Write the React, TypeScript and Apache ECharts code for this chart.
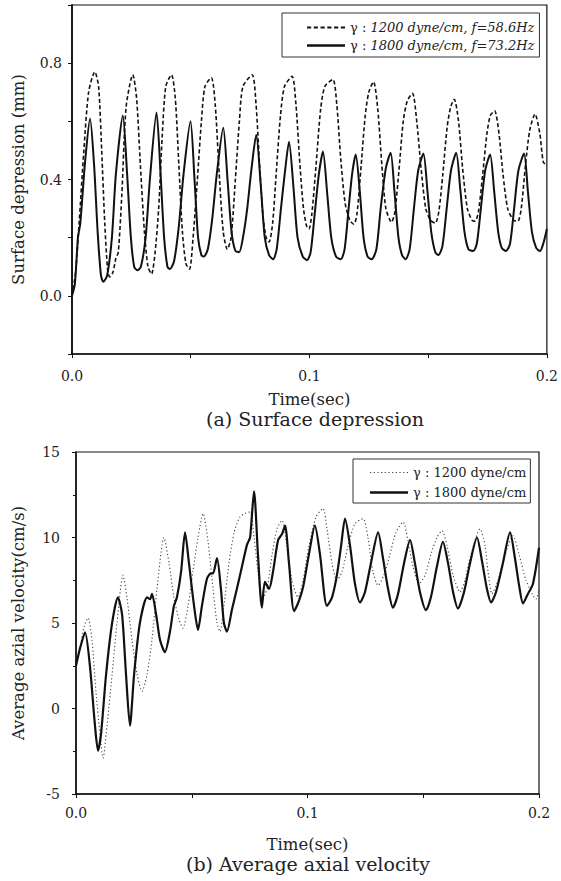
import React, { useEffect, useRef } from "react";
import * as echarts from "echarts";

// (a) Surface depression (mm) vs time (s)
const depth1200: [number, number][] = [
  [0, 0], [0.0015, 0.08], [0.003, 0.25], [0.005, 0.5], [0.007, 0.7], [0.0096, 0.77], [0.0112, 0.72], [0.0125, 0.5],
  [0.0138, 0.25], [0.015, 0.09], [0.0159, 0.065], [0.0172, 0.08], [0.0185, 0.13], [0.0195, 0.15], [0.021, 0.35],
  [0.0228, 0.65], [0.0256, 0.76], [0.0272, 0.68], [0.0288, 0.45], [0.0305, 0.22], [0.032, 0.1], [0.0335, 0.075],
  [0.035, 0.15], [0.0365, 0.3], [0.038, 0.55], [0.0395, 0.72], [0.0419, 0.76], [0.0435, 0.68], [0.045, 0.45],
  [0.0465, 0.22], [0.048, 0.11], [0.0495, 0.092], [0.051, 0.2], [0.0528, 0.4], [0.0545, 0.6], [0.056, 0.72],
  [0.0587, 0.75], [0.0603, 0.66], [0.062, 0.42], [0.0637, 0.22], [0.0654, 0.16], [0.067, 0.2], [0.0688, 0.4],
  [0.0705, 0.6], [0.072, 0.72], [0.0759, 0.76], [0.0775, 0.66], [0.079, 0.45], [0.0805, 0.27], [0.0818, 0.2],
  [0.083, 0.185], [0.0845, 0.25], [0.086, 0.42], [0.0878, 0.62], [0.0895, 0.72], [0.0927, 0.755], [0.0943, 0.66],
  [0.096, 0.45], [0.0975, 0.3], [0.0988, 0.24], [0.0998, 0.23], [0.101, 0.28], [0.1028, 0.45], [0.1047, 0.64],
  [0.1065, 0.72], [0.1099, 0.744], [0.1115, 0.66], [0.1132, 0.47], [0.115, 0.32], [0.117, 0.26], [0.1187, 0.246],
  [0.12, 0.28], [0.1218, 0.45], [0.1235, 0.62], [0.125, 0.7], [0.127, 0.736], [0.1288, 0.64], [0.1305, 0.45],
  [0.1322, 0.3], [0.1346, 0.253], [0.136, 0.29], [0.1378, 0.44], [0.1395, 0.6], [0.1412, 0.67], [0.1434, 0.696],
  [0.1452, 0.6], [0.147, 0.44], [0.149, 0.3], [0.151, 0.26], [0.153, 0.25], [0.1545, 0.29], [0.1562, 0.42],
  [0.158, 0.58], [0.1595, 0.65], [0.161, 0.676], [0.1628, 0.6], [0.1645, 0.44], [0.1665, 0.3], [0.1685, 0.26],
  [0.1698, 0.257], [0.1712, 0.29], [0.173, 0.42], [0.1748, 0.56], [0.1762, 0.62], [0.178, 0.636], [0.1798, 0.56],
  [0.1815, 0.42], [0.1835, 0.3], [0.186, 0.26], [0.1878, 0.257], [0.1892, 0.3], [0.191, 0.45], [0.1928, 0.57],
  [0.195, 0.625], [0.197, 0.56], [0.1985, 0.46], [0.2, 0.45],
];

const depth1800: [number, number][] = [
  [0, 0], [0.0012, 0.04], [0.0025, 0.2], [0.0035, 0.25], [0.0055, 0.46], [0.0076, 0.61], [0.0093, 0.45], [0.0108, 0.22],
  [0.0122, 0.07], [0.0132, 0.048], [0.0148, 0.07], [0.0168, 0.2], [0.0185, 0.42], [0.0214, 0.62], [0.0232, 0.42],
  [0.0248, 0.2], [0.0262, 0.1], [0.0275, 0.088], [0.029, 0.1], [0.031, 0.2], [0.0328, 0.4], [0.0356, 0.63],
  [0.0373, 0.42], [0.0388, 0.2], [0.0402, 0.1], [0.0412, 0.092], [0.043, 0.12], [0.045, 0.24], [0.047, 0.42],
  [0.0499, 0.6], [0.0516, 0.4], [0.0531, 0.2], [0.0545, 0.14], [0.0555, 0.135], [0.0572, 0.16], [0.059, 0.26],
  [0.061, 0.42], [0.0637, 0.578], [0.0655, 0.4], [0.0672, 0.22], [0.0688, 0.155], [0.0704, 0.15], [0.072, 0.2],
  [0.0738, 0.3], [0.0755, 0.43], [0.0776, 0.554], [0.0795, 0.38], [0.0812, 0.2], [0.083, 0.14], [0.0847, 0.126],
  [0.0862, 0.16], [0.088, 0.3], [0.0896, 0.42], [0.0914, 0.53], [0.0933, 0.37], [0.095, 0.2], [0.0972, 0.135],
  [0.099, 0.123], [0.1005, 0.15], [0.1022, 0.28], [0.104, 0.42], [0.1057, 0.496], [0.1075, 0.35], [0.1092, 0.2],
  [0.1112, 0.135], [0.1132, 0.126], [0.1148, 0.16], [0.1165, 0.3], [0.118, 0.42], [0.1195, 0.486], [0.1212, 0.36],
  [0.1228, 0.2], [0.1245, 0.135], [0.1262, 0.126], [0.1282, 0.16], [0.13, 0.3], [0.1322, 0.44], [0.1342, 0.492],
  [0.1358, 0.36], [0.1375, 0.2], [0.139, 0.14], [0.1405, 0.126], [0.1422, 0.16], [0.144, 0.3], [0.1458, 0.43],
  [0.148, 0.489], [0.1497, 0.36], [0.1513, 0.22], [0.153, 0.15], [0.1543, 0.14], [0.156, 0.17], [0.1578, 0.3],
  [0.1596, 0.43], [0.1618, 0.492], [0.1636, 0.36], [0.1653, 0.22], [0.167, 0.16], [0.169, 0.154], [0.1705, 0.18],
  [0.1722, 0.3], [0.174, 0.43], [0.1761, 0.486], [0.1778, 0.36], [0.1795, 0.22], [0.181, 0.165], [0.1828, 0.154],
  [0.1845, 0.18], [0.1862, 0.3], [0.188, 0.43], [0.1904, 0.489], [0.192, 0.36], [0.1937, 0.22], [0.1955, 0.165],
  [0.1971, 0.154], [0.1985, 0.18], [0.2, 0.23],
];

// (b) Average axial velocity (cm/s) vs time (s)
const vel1200: [number, number][] = [
  [0, 2.5], [0.0017, 3.5], [0.0035, 4.8], [0.0052, 5.3], [0.0069, 4.0], [0.0086, 1.0], [0.0104, -1.5], [0.0117, -2.9],
  [0.0134, -1.0], [0.0156, 2.0], [0.0177, 5.0], [0.0203, 7.8], [0.022, 6.5], [0.0242, 4.0], [0.0264, 2.0], [0.0285, 1.0],
  [0.0307, 2.0], [0.0328, 4.0], [0.035, 7.0], [0.038, 10.0], [0.0402, 8.5], [0.0423, 6.5], [0.0445, 5.2], [0.0462, 4.7],
  [0.0484, 6.0], [0.0505, 8.0], [0.0527, 10.0], [0.0549, 11.4], [0.057, 9.8], [0.0592, 7.0], [0.0609, 5.0], [0.0622, 4.5],
  [0.0639, 6.0], [0.0661, 8.5], [0.0683, 10.3], [0.0708, 11.2], [0.073, 11.4], [0.0752, 11.5], [0.0769, 10.0],
  [0.0786, 8.0], [0.0803, 6.3], [0.0825, 7.0], [0.0847, 9.0], [0.0868, 10.5], [0.089, 11.0], [0.0911, 9.5],
  [0.0933, 7.5], [0.0959, 6.5], [0.0981, 7.5], [0.1006, 9.5], [0.1037, 11.2], [0.1067, 11.7], [0.1084, 10.5],
  [0.1106, 8.5], [0.1127, 7.5], [0.1149, 8.0], [0.1175, 9.5], [0.1205, 10.8], [0.124, 11.1], [0.1261, 10.0],
  [0.1283, 8.0], [0.1305, 7.2], [0.133, 7.8], [0.1356, 9.0], [0.1382, 10.3], [0.1413, 10.9], [0.1434, 9.8],
  [0.1456, 8.3], [0.1482, 7.3], [0.1508, 7.8], [0.1533, 9.0], [0.1559, 10.0], [0.1581, 10.4], [0.1603, 9.5],
  [0.1629, 7.8], [0.1659, 6.8], [0.168, 7.5], [0.1706, 9.0], [0.1745, 10.5], [0.1767, 9.5], [0.178, 8.0],
  [0.1797, 6.7], [0.1823, 7.5], [0.1853, 9.0], [0.1888, 10.1], [0.1914, 9.0], [0.1944, 7.5], [0.1987, 6.4], [0.2, 7.0],
];

const vel1800: [number, number][] = [
  [0, 2.5], [0.0017, 3.5], [0.0039, 4.46], [0.006, 2.5], [0.0082, -1.0], [0.0095, -2.46], [0.0108, -1.5], [0.013, 2.0],
  [0.0156, 5.0], [0.0181, 6.5], [0.0199, 5.5], [0.0216, 2.0], [0.0233, -1.0], [0.0251, 2.0], [0.0276, 5.0], [0.0307, 6.5],
  [0.032, 6.4], [0.0328, 6.7], [0.0346, 5.5], [0.0363, 4.0], [0.0384, 3.3], [0.0406, 4.5], [0.0423, 6.0], [0.0436, 6.5],
  [0.0454, 8.0], [0.0471, 10.3], [0.0488, 8.5], [0.051, 6.0], [0.0527, 4.6], [0.0544, 6.0], [0.0566, 7.6], [0.0583, 7.9],
  [0.0592, 7.9], [0.0609, 8.8], [0.0626, 7.0], [0.0639, 5.0], [0.0652, 4.5], [0.0674, 5.8], [0.0695, 7.0], [0.0717, 8.3],
  [0.0739, 9.6], [0.0752, 10.0], [0.0769, 12.7], [0.0786, 9.0], [0.0803, 5.9], [0.0816, 7.4], [0.0834, 7.0],
  [0.0851, 8.0], [0.0873, 9.85], [0.089, 10.2], [0.0903, 10.7], [0.092, 8.5], [0.0942, 5.7], [0.0963, 6.3],
  [0.0981, 7.1], [0.1006, 9.0], [0.1032, 10.7], [0.1054, 9.0], [0.1084, 6.0], [0.1106, 6.5], [0.1127, 7.8],
  [0.1145, 9.5], [0.1162, 11.1], [0.1184, 9.5], [0.1205, 7.3], [0.1227, 6.2], [0.1248, 6.8], [0.1274, 8.5],
  [0.1305, 10.3], [0.1326, 8.8], [0.1348, 7.0], [0.1369, 5.9], [0.1391, 6.7], [0.1417, 8.5], [0.1443, 9.85],
  [0.1464, 8.5], [0.1486, 6.8], [0.1512, 5.75], [0.1533, 6.5], [0.1559, 8.3], [0.1585, 9.75], [0.1607, 8.5],
  [0.1629, 6.8], [0.165, 5.85], [0.1676, 6.8], [0.1702, 8.5], [0.1732, 10.0], [0.1754, 8.6], [0.1775, 7.0],
  [0.1793, 6.2], [0.1814, 6.8], [0.1844, 8.5], [0.1875, 10.3], [0.1896, 8.8], [0.1914, 7.2], [0.1931, 6.15],
  [0.1952, 6.7], [0.1974, 7.3], [0.2, 9.4],
];

const nameA1200 = "γ : 1200 dyne/cm, f=58.6Hz";
const nameA1800 = "γ : 1800 dyne/cm, f=73.2Hz";
const nameB1200 = "γ : 1200 dyne/cm";
const nameB1800 = "γ : 1800 dyne/cm";

const FONT = '"DejaVu Serif", serif';
const INK = "#111";
const TXT = "#222";

const ICON_DASH =
  "path://M0,0h4v2h-4z M6.5,0h4v2h-4z M13,0h4v2h-4z M19.5,0h4v2h-4z M26,0h4v2h-4z M32.5,0h4v2h-4z";
const ICON_SOLID = "path://M0,0h38v2.4h-38z";
const ICON_DOT =
  "path://M0,0h1.2v1.2h-1.2z M3.6,0h1.2v1.2h-1.2z M7.2,0h1.2v1.2h-1.2z M10.8,0h1.2v1.2h-1.2z M14.4,0h1.2v1.2h-1.2z M18,0h1.2v1.2h-1.2z M21.6,0h1.2v1.2h-1.2z M25.2,0h1.2v1.2h-1.2z M28.8,0h1.2v1.2h-1.2z M32.4,0h1.2v1.2h-1.2z M36,0h1.2v1.2h-1.2z";

const xFmt = (v: number) => (Math.round(v * 100) % 10 === 0 ? v.toFixed(1) : "");
const yFmtA = (v: number) => {
  const k = Math.round(v * 10);
  return k === 0 || k === 4 || k === 8 ? (k / 10).toFixed(1) : "";
};

function makeX(gridIndex: number, margin: number, nameGap: number) {
  return {
    gridIndex,
    type: "value",
    min: 0,
    max: 0.2,
    interval: 0.05,
    axisLine: { show: true, onZero: false, lineStyle: { color: INK, width: 1.5 } },
    axisTick: { show: true, length: 4, lineStyle: { color: INK, width: 1 } },
    axisLabel: { formatter: xFmt, margin, fontFamily: FONT, fontSize: 14, color: TXT },
    splitLine: { show: false },
    name: "Time(sec)",
    nameLocation: "middle",
    nameGap,
    nameTextStyle: { fontFamily: FONT, fontSize: 16.5, color: TXT },
  };
}

export default function App() {
  const ref = useRef<HTMLDivElement>(null);
  useEffect(() => {
    if (!ref.current) return;
    const chart = echarts.init(ref.current, null, { renderer: "svg" });
    const legendText = (italic: boolean) => ({
      fontFamily: FONT,
      fontSize: 13,
      color: TXT,
      rich: {
        n: { fontFamily: FONT, fontSize: 13, color: TXT },
        i: { fontFamily: FONT, fontSize: 13, color: TXT, fontStyle: italic ? "italic" : "normal" },
      },
    });
    const splitName = (name: string) => {
      const idx = name.indexOf(": ");
      return `{n|${name.slice(0, idx + 2)}}{i|${name.slice(idx + 2)}}`;
    };
    const legendBase = {
      orient: "vertical",
      itemWidth: 38,
      itemHeight: 14,
      borderColor: "#333",
      borderWidth: 1,
      backgroundColor: "#fff",
      selectedMode: false,
      formatter: splitName,
      itemStyle: { borderWidth: 0 },
      lineStyle: { width: 0 },
    };
    const option: any = {
      animation: false,
      backgroundColor: "#fff",
      grid: [
        { left: 72, top: 5, width: 477, height: 349, show: true, borderColor: INK, borderWidth: 1.2, backgroundColor: "transparent" },
        { left: 76, top: 452, width: 463, height: 342, show: true, borderColor: INK, borderWidth: 1.2, backgroundColor: "transparent" },
      ],
      xAxis: [makeX(0, 15, 37), makeX(1, 12, 42)],
      yAxis: [
        {
          gridIndex: 0,
          type: "value",
          min: -0.2,
          max: 1.0,
          interval: 0.2,
          axisLine: { show: true, onZero: false, lineStyle: { color: INK, width: 1.8 } },
          axisTick: { show: true, length: 4, lineStyle: { color: INK } },
          axisLabel: { formatter: yFmtA, margin: 10, fontFamily: FONT, fontSize: 14, color: TXT },
          splitLine: { show: false },
          name: "Surface depression (mm)",
          nameLocation: "middle",
          nameGap: 45,
          nameTextStyle: { fontFamily: FONT, fontSize: 16.5, color: TXT },
        },
        {
          gridIndex: 1,
          type: "value",
          min: -5,
          max: 15,
          interval: 5,
          axisLine: { show: true, onZero: false, lineStyle: { color: INK, width: 1.5 } },
          axisTick: { show: true, length: 4, lineStyle: { color: INK } },
          minorTick: { show: true, splitNumber: 2, length: 3, lineStyle: { color: INK } },
          axisLabel: { margin: 16, fontFamily: FONT, fontSize: 14, color: TXT },
          splitLine: { show: false },
          name: "Average azial velocity(cm/s)",
          nameLocation: "middle",
          nameGap: 49,
          nameTextStyle: { fontFamily: FONT, fontSize: 16.5, color: TXT },
        },
      ],
      legend: [
        {
          ...legendBase,
          data: [
            { name: nameA1200, icon: ICON_DASH },
            { name: nameA1800, icon: ICON_SOLID },
          ],
          left: 282,
          top: 13,
          itemGap: 5,
          padding: [8, 5, 5, 25],
          textStyle: legendText(true),
        },
        {
          ...legendBase,
          data: [
            { name: nameB1200, icon: ICON_DOT },
            { name: nameB1800, icon: ICON_SOLID },
          ],
          left: 353,
          top: 459,
          itemGap: 7,
          padding: [7, 4, 4, 17],
          textStyle: legendText(false),
        },
      ],
      title: [
        {
          text: "(a) Surface depression",
          left: 315,
          top: 409,
          textAlign: "center",
          padding: 0,
          textStyle: { fontFamily: FONT, fontSize: 19, fontWeight: "normal", color: TXT },
        },
        {
          text: "(b) Average axial velocity",
          left: 308,
          top: 854,
          textAlign: "center",
          padding: 0,
          textStyle: { fontFamily: FONT, fontSize: 19, fontWeight: "normal", color: TXT },
        },
      ],
      series: [
        {
          name: nameA1200,
          type: "line",
          xAxisIndex: 0,
          yAxisIndex: 0,
          data: depth1200,
          symbol: "none",
          smooth: 0.25,
          lineStyle: { color: INK, width: 1.6, type: [4, 2.5] },
          itemStyle: { color: INK },
        },
        {
          name: nameA1800,
          type: "line",
          xAxisIndex: 0,
          yAxisIndex: 0,
          data: depth1800,
          symbol: "none",
          smooth: 0.25,
          lineStyle: { color: INK, width: 2 },
          itemStyle: { color: INK },
        },
        {
          name: nameB1200,
          type: "line",
          xAxisIndex: 1,
          yAxisIndex: 1,
          data: vel1200,
          symbol: "none",
          smooth: 0.25,
          lineStyle: { color: "#444", width: 1.1, type: [1.2, 2.4] },
          itemStyle: { color: "#444" },
        },
        {
          name: nameB1800,
          type: "line",
          xAxisIndex: 1,
          yAxisIndex: 1,
          data: vel1800,
          symbol: "none",
          smooth: 0.25,
          lineStyle: { color: INK, width: 2.2 },
          itemStyle: { color: INK },
        },
      ],
    };
    chart.setOption(option);
    return () => chart.dispose();
  }, []);
  return (
    <div
      ref={ref}
      style={{ position: "absolute", left: 0, top: 0, width: 561, height: 881, background: "#fff" }}
    />
  );
}
